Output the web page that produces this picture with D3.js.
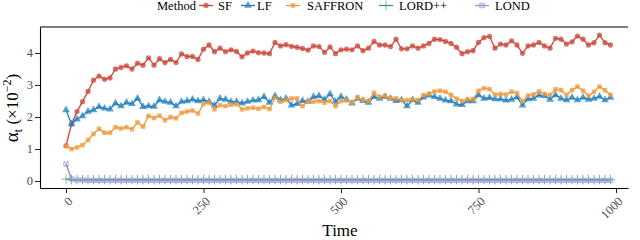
<!DOCTYPE html>
<html><head><meta charset="utf-8">
<script src="https://cdn.jsdelivr.net/npm/d3@7/dist/d3.min.js"></script>
<style>body{margin:0;background:#fff}svg{display:block;font-family:"Liberation Serif","Times New Roman",serif}</style>
</head><body><svg id="c" width="640" height="240"></svg>
<script>
const times = [0,10,20,30,40,50,60,70,80,90,100,110,120,130,140,150,160,170,180,190,200,210,220,230,240,250,260,270,280,290,300,310,320,330,340,350,360,370,380,390,400,410,420,430,440,450,460,470,480,490,500,510,520,530,540,550,560,570,580,590,600,610,620,630,640,650,660,670,680,690,700,710,720,730,740,750,760,770,780,790,800,810,820,830,840,850,860,870,880,890,900,910,920,930,940,950,960,970,980,990];
const methods = ["SF","LF","SAFFRON","LORD++","LOND"];
const sf = [1.10,1.78,2.17,2.48,2.80,3.15,3.28,3.18,3.22,3.50,3.55,3.60,3.50,3.68,3.62,3.85,3.62,3.82,3.70,3.80,3.70,3.97,3.89,3.89,3.80,4.12,4.25,4.04,4.15,4.04,4.10,4.05,3.88,4.00,4.06,4.01,4.00,3.98,4.33,4.22,4.26,4.21,4.18,4.14,4.09,4.22,4.20,4.02,4.19,3.98,4.10,4.12,4.10,4.22,4.07,4.15,4.36,4.25,4.25,4.20,4.43,4.13,4.13,4.22,4.15,4.22,4.30,4.43,4.42,4.36,4.30,4.18,3.98,4.04,4.07,4.33,4.48,4.52,4.15,4.28,4.25,4.38,4.25,3.99,4.22,4.25,4.33,4.22,4.15,4.46,4.43,4.28,4.35,4.53,4.43,4.25,4.32,4.56,4.32,4.25];
const lf = [2.22,1.78,1.93,2.03,2.17,2.22,2.32,2.27,2.24,2.43,2.34,2.45,2.41,2.58,2.32,2.34,2.33,2.53,2.48,2.45,2.34,2.48,2.50,2.55,2.50,2.53,2.48,2.37,2.58,2.55,2.48,2.48,2.43,2.48,2.52,2.53,2.63,2.45,2.66,2.53,2.58,2.37,2.41,2.51,2.48,2.63,2.66,2.55,2.72,2.48,2.63,2.55,2.43,2.58,2.51,2.45,2.63,2.58,2.63,2.58,2.51,2.53,2.34,2.53,2.45,2.62,2.68,2.63,2.58,2.52,2.50,2.40,2.38,2.50,2.50,2.69,2.58,2.60,2.56,2.56,2.52,2.55,2.62,2.37,2.56,2.58,2.68,2.66,2.55,2.69,2.58,2.53,2.61,2.53,2.61,2.55,2.58,2.64,2.53,2.61];
const saffron = [1.10,1.00,1.05,1.12,1.28,1.47,1.63,1.51,1.51,1.68,1.64,1.68,1.62,1.83,1.70,2.03,1.97,2.04,1.90,1.99,1.96,2.13,2.17,2.20,2.11,2.41,2.45,2.24,2.37,2.34,2.38,2.40,2.24,2.27,2.29,2.26,2.31,2.25,2.60,2.48,2.53,2.58,2.58,2.34,2.50,2.48,2.50,2.45,2.50,2.34,2.50,2.52,2.45,2.61,2.53,2.50,2.76,2.63,2.66,2.58,2.58,2.53,2.53,2.55,2.53,2.68,2.72,2.80,2.82,2.79,2.69,2.57,2.50,2.55,2.56,2.82,2.90,2.87,2.70,2.72,2.70,2.79,2.75,2.49,2.67,2.71,2.80,2.72,2.69,2.87,2.84,2.69,2.84,2.95,2.82,2.66,2.79,2.95,2.84,2.69];
const lordpp = [0.06,0.04,0.04,0.04,0.04,0.04,0.04,0.04,0.04,0.04,0.04,0.04,0.04,0.04,0.04,0.04,0.04,0.04,0.04,0.04,0.04,0.04,0.04,0.04,0.04,0.04,0.04,0.04,0.04,0.04,0.04,0.04,0.04,0.04,0.04,0.04,0.04,0.04,0.04,0.04,0.04,0.04,0.04,0.04,0.04,0.04,0.04,0.04,0.04,0.04,0.04,0.04,0.04,0.04,0.04,0.04,0.04,0.04,0.04,0.04,0.04,0.04,0.04,0.04,0.04,0.04,0.04,0.04,0.04,0.04,0.04,0.04,0.04,0.04,0.04,0.04,0.04,0.04,0.04,0.04,0.04,0.04,0.04,0.04,0.04,0.04,0.04,0.04,0.04,0.04,0.04,0.04,0.04,0.04,0.04,0.04,0.04,0.04,0.04,0.04];
const lond = [0.53,0.06,0.03,0.03,0.02,0.02,0.02,0.02,0.02,0.02,0.02,0.02,0.02,0.02,0.02,0.02,0.02,0.02,0.02,0.02,0.02,0.02,0.02,0.02,0.02,0.02,0.02,0.02,0.02,0.02,0.02,0.02,0.02,0.02,0.02,0.02,0.02,0.02,0.02,0.02,0.02,0.02,0.02,0.02,0.02,0.02,0.02,0.02,0.02,0.02,0.02,0.02,0.02,0.02,0.02,0.02,0.02,0.02,0.02,0.02,0.02,0.02,0.02,0.02,0.02,0.02,0.02,0.02,0.02,0.02,0.02,0.02,0.02,0.02,0.02,0.02,0.02,0.02,0.02,0.02,0.02,0.02,0.02,0.02,0.02,0.02,0.02,0.02,0.02,0.02,0.02,0.02,0.02,0.02,0.02,0.02,0.02,0.02,0.02,0.02];
const yTicks = [0,1,2,3,4];
const xTicks = [0,250,500,750,1000];

const colors = {"SF":"#C9483A","LF":"#2280C0","SAFFRON":"#EE9A3E","LORD++":"#3A9E6E","LOND":"#9696D6"};
const seriesData = {"SF":sf,"LF":lf,"SAFFRON":saffron,"LORD++":lordpp,"LOND":lond};

const svg = d3.select("#c");
const L=40, R=628, T=27, B=188;
const x = d3.scaleLinear().domain([-47.3,1021.8]).range([L,R]);
const y = d3.scaleLinear().domain([-0.219,4.8125]).range([B,T]);

function marker(g, m, cx, cy){
  const col = colors[m];
  if(m==="SF"){
    g.append("path").attr("d",d3.symbol(d3.symbolCircle,22)()).attr("transform",`translate(${cx},${cy})`).attr("fill",col).attr("fill-opacity",0.75);
  } else if(m==="LF"){
    g.append("path").attr("d",d3.symbol(d3.symbolTriangle,26)()).attr("transform",`translate(${cx},${cy})`).attr("fill",col).attr("fill-opacity",0.75);
  } else if(m==="SAFFRON"){
    g.append("path").attr("d",d3.symbol(d3.symbolSquare,21)()).attr("transform",`translate(${cx},${cy})`).attr("fill",col).attr("fill-opacity",0.75);
  } else if(m==="LORD++"){
    g.append("path").attr("d",d3.symbol(d3.symbolPlus,32)()).attr("transform",`translate(${cx},${cy})`).attr("fill","none").attr("stroke",col).attr("stroke-opacity",0.75).attr("stroke-width",0.9);
  } else {
    g.append("path").attr("d",d3.symbol(d3.symbolSquare,20)()).attr("transform",`translate(${cx},${cy})`).attr("fill","none").attr("stroke",col).attr("stroke-opacity",0.8).attr("stroke-width",0.9);
    g.append("path").attr("d",d3.symbol(d3.symbolTimes,15)()).attr("transform",`translate(${cx},${cy})`).attr("fill","none").attr("stroke",col).attr("stroke-opacity",0.8).attr("stroke-width",0.7);
  }
}

// series
const line = d3.line().x((d,i)=>x(times[i])).y(d=>y(d));
methods.forEach(m=>{
  const g = svg.append("g");
  g.append("path").datum(seriesData[m]).attr("d",line).attr("fill","none")
    .attr("stroke",colors[m]).attr("stroke-width",m==="LOND"?1.7:1.4).attr("stroke-opacity",0.95);
  seriesData[m].forEach((v,i)=>marker(g,m,x(times[i]),y(v)));
});

// axes
const ax = svg.append("g").attr("transform",`translate(0,${B})`).call(d3.axisBottom(x).tickValues(xTicks).tickSize(5).tickSizeOuter(0).tickFormat(d3.format("d")));
ax.attr("font-family",null);
ax.select(".domain").attr("stroke","#000").attr("stroke-width",1.1);
ax.selectAll(".tick line").attr("stroke","#222");
ax.selectAll(".tick text").attr("font-size",12.5).attr("fill","#4d4d4d")
  .attr("text-anchor","end").attr("dy",0).attr("y",0)
  .attr("transform","translate(7,14) rotate(-45)");
const ay = svg.append("g").attr("transform",`translate(${L},0)`).call(d3.axisLeft(y).tickValues(yTicks).tickSize(5).tickSizeOuter(0).tickFormat(d3.format("d")));
ay.attr("font-family",null);
ay.select(".domain").attr("stroke","#000").attr("stroke-width",1.1);
ay.selectAll(".tick line").attr("stroke","#222");
ay.selectAll(".tick text").attr("font-size",12.5).attr("fill","#4d4d4d").attr("x",-7);
svg.append("line").attr("x1",L).attr("x2",R).attr("y1",T).attr("y2",T).attr("stroke","#000").attr("stroke-width",1.1);

// titles
svg.append("text").attr("x",340).attr("y",236).attr("text-anchor","middle").attr("font-size",17).text("Time");
const yt = svg.append("text").attr("transform","translate(18,108) rotate(-90)").attr("text-anchor","middle").attr("font-size",17);
yt.append("tspan").attr("font-size",19).text("α");
yt.append("tspan").attr("font-size",12).attr("dy",4).text("t");
yt.append("tspan").attr("dy",-4).text(" (×10");
yt.append("tspan").attr("font-size",12).attr("dy",-7).text("−2");
yt.append("tspan").attr("dy",7).text(")");

// legend
svg.append("text").attr("x",157).attr("y",9.5).attr("font-size",12.5).text("Method");
const keyX = [206,248,293,386,482], textX=[218,257,307,399,495];
methods.forEach((m,i)=>{
  const g = svg.append("g");
  g.append("line").attr("x1",keyX[i]-7).attr("x2",keyX[i]+7).attr("y1",5.5).attr("y2",5.5).attr("stroke",colors[m]).attr("stroke-width",1.3);
  marker(g,m,keyX[i],5.5);
  svg.append("text").attr("x",textX[i]).attr("y",9.5).attr("font-size",12.5).text(m);
});
</script></body></html>
